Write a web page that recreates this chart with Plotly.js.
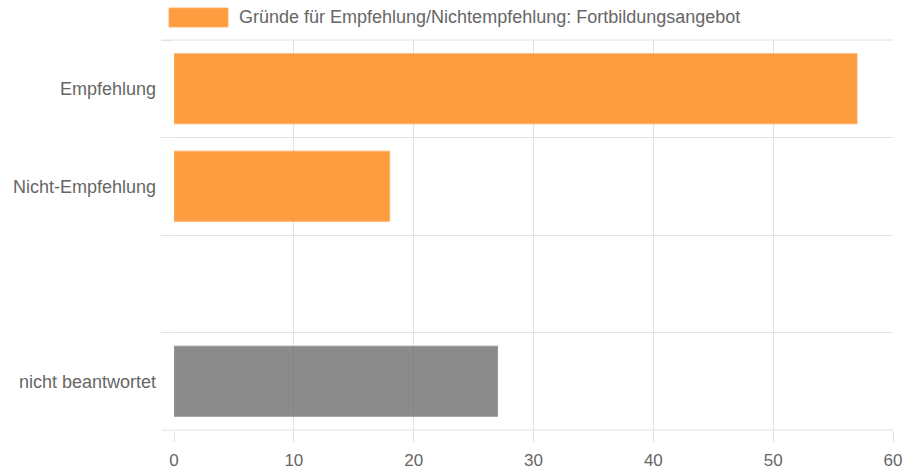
<!DOCTYPE html>
<html>
<head>
<meta charset="utf-8">
<script src="https://cdn.plot.ly/plotly-3.0.1.min.js"></script>
<style>html,body{margin:0;padding:0;background:#fff;}#chart{width:905px;height:470px;}</style>
</head>
<body>
<div id="chart"></div>
<script>
const categories = ['Empfehlung', 'Nicht-Empfehlung', ' ', 'nicht beantwortet'];
const values = [57, 18, null, 27];
const seriesName = 'Gründe für Empfehlung/Nichtempfehlung: Fortbildungsangebot';
const xTicks = [0, 10, 20, 30, 40, 50, 60];

const orange = 'rgba(253,140,30,0.85)';
const gray = 'rgba(110,110,110,0.8)';
const colors = categories.map(c => c === 'nicht beantwortet' ? gray : orange);
const borders = categories.map(c => c === 'nicht beantwortet' ? 'rgba(150,150,150,0.9)' : 'rgba(255,175,100,0.9)');

const family = 'Liberation Sans, Arial, sans-serif';
const font = {family: family, size: 18, color: '#666666'};
const xFont = {family: family, size: 17, color: '#666666'};
const gridColor = '#e2e2e2';

const trace = {
  type: 'bar',
  orientation: 'h',
  y: categories,
  x: values,
  name: seriesName,
  width: 0.72,
  marker: {color: colors, line: {color: borders, width: 1}},
  showlegend: false,
  hoverinfo: 'x+y'
};

const plotW = 905 - 174 - 12;
const plotH = 470 - 40 - 40;

const layout = {
  width: 905, height: 470,
  margin: {l: 174, r: 12, t: 40, b: 40},
  paper_bgcolor: '#ffffff', plot_bgcolor: '#ffffff',
  font: font,
  xaxis: {
    range: [0, 60], tickvals: xTicks, ticktext: xTicks.map(String),
    showgrid: true, gridcolor: gridColor, gridwidth: 1,
    zeroline: false, showline: false,
    ticks: 'outside', ticklen: 11, tickcolor: gridColor,
    ticklabelstandoff: 4,
    tickfont: xFont, fixedrange: true
  },
  yaxis: {
    type: 'category', categoryorder: 'array', categoryarray: categories,
    autorange: 'reversed',
    tickson: 'boundaries', showgrid: true, gridcolor: gridColor, gridwidth: 1,
    ticks: 'outside', ticklen: 12, tickcolor: gridColor,
    ticklabelstandoff: 17,
    showline: false, zeroline: false,
    tickfont: font, fixedrange: true
  },
  shapes: [
    {type: 'line', xref: 'paper', yref: 'paper', x0: -12 / plotW, x1: 1, y0: 1, y1: 1,
     line: {color: gridColor, width: 1}, layer: 'below'},
    {type: 'line', xref: 'paper', yref: 'paper', x0: -12 / plotW, x1: 1, y0: 0, y1: 0,
     line: {color: gridColor, width: 1}, layer: 'below'},
    {type: 'rect', xref: 'paper', yref: 'paper',
     x0: (169 - 174) / plotW, x1: (228 - 174) / plotW,
     y0: 1 + (40 - 27) / plotH, y1: 1 + (40 - 8) / plotH,
     fillcolor: orange, line: {color: 'rgba(255,175,100,0.9)', width: 1}}
  ],
  annotations: [{
    xref: 'paper', yref: 'paper', x: (237 - 174) / plotW, y: 1 + (40 - 17.5) / plotH,
    xanchor: 'left', yanchor: 'middle', showarrow: false,
    text: seriesName, font: font
  }]
};

Plotly.newPlot('chart', [trace], layout, {displayModeBar: false, staticPlot: true});
</script>
</body>
</html>
